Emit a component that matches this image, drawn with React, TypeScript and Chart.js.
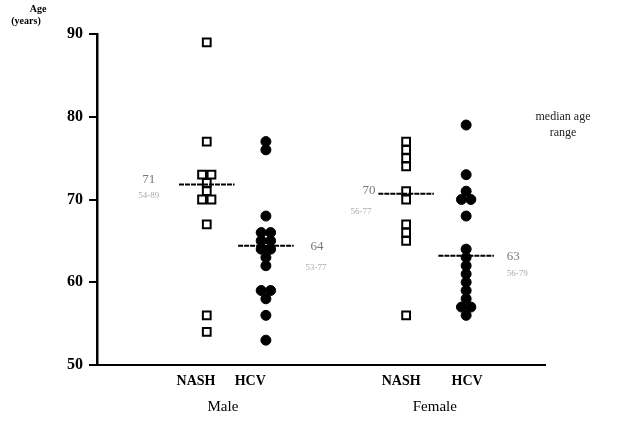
import React, { useEffect, useRef } from "react";
import { Chart, registerables } from "chart.js";
Chart.register(...registerables);

// ---- data ----
const groupNames = ["Male", "Female"];
const categories = ["NASH", "HCV", "NASH", "HCV"];
const maleNash = [89, 77, 73, 73, 72, 71, 70, 70, 67, 56, 54];
const maleHcv = [77, 76, 68, 66, 66, 65, 65, 64, 64, 63, 62, 59, 59, 58, 56, 53];
const femaleNash = [77, 76, 75, 74, 71, 70, 67, 66, 65, 56];
const femaleHcv = [79, 73, 71, 70, 70, 68, 64, 63, 62, 61, 60, 59, 58, 57, 57, 56];
const medianValues = [71.8, 64.4, 70.7, 63.2];
const medianLabels = ["71", "64", "70", "63"];
const rangeLabels = ["54-89", "53-77", "56-77", "56-79"];
const yTicks = [50, 60, 70, 80, 90];

// ---- layout ----
const FONT = "'Liberation Serif', 'Times New Roman', serif";
const columnX = [2.45, 3.77, 6.9, 8.24];
const labelX = [2.21, 3.42, 6.79, 8.26];
const groupX = [2.81, 7.54];
const jitter = 0.21;
const medianHalf = 0.62;
// pixel offsets of median / range text relative to column centre & median line
const valueOff = [[-58, -5], [51, 1], [-37, -3], [47, 1]];
const rangeOff = [[-58, 11], [50, 22], [-45, 18], [51, 18]];

function spread(values: number[], cx: number) {
  const counts: Record<number, number> = {};
  values.forEach((v) => (counts[v] = (counts[v] || 0) + 1));
  const seen: Record<number, number> = {};
  return values.map((v) => {
    const n = counts[v];
    const i = seen[v] || 0;
    seen[v] = i + 1;
    return { x: cx + (i - (n - 1) / 2) * jitter, y: v };
  });
}

const annotate = {
  id: "annotate",
  afterDraw(chart: any) {
    const { ctx, scales } = chart;
    const xs = scales.x;
    const ys = scales.y;
    ctx.save();
    ctx.fillStyle = "#000";
    ctx.textBaseline = "middle";
    // axis title
    ctx.font = `bold 10px ${FONT}`;
    ctx.textAlign = "center";
    ctx.fillText("Age", 38, 9);
    ctx.fillText("(years)", 26, 21);
    // group labels
    ctx.font = `15px ${FONT}`;
    groupNames.forEach((g, i) => {
      ctx.fillText(g, xs.getPixelForValue(groupX[i]), 407);
    });
    // median labels
    medianValues.forEach((m, i) => {
      const cx = xs.getPixelForValue(columnX[i]);
      const cy = ys.getPixelForValue(m);
      ctx.fillStyle = "#777";
      ctx.font = `13px ${FONT}`;
      ctx.fillText(medianLabels[i], cx + valueOff[i][0], cy + valueOff[i][1]);
      ctx.fillStyle = "#aaa";
      ctx.font = `9px ${FONT}`;
      ctx.fillText(rangeLabels[i], cx + rangeOff[i][0], cy + rangeOff[i][1]);
    });
    // note
    ctx.fillStyle = "#222";
    ctx.font = `12px ${FONT}`;
    ctx.fillText("median age", 563, 117);
    ctx.fillText("range", 563, 133);
    ctx.restore();
  },
};

export default function App() {
  const ref = useRef<HTMLCanvasElement>(null);
  useEffect(() => {
    if (!ref.current) return;
    const pointSets = [maleNash, maleHcv, femaleNash, femaleHcv].map((vals, i) => {
      const nash = i % 2 === 0;
      return {
        data: spread(vals, columnX[i]),
        pointStyle: nash ? "rect" : "circle",
        pointRadius: nash ? 5.5 : 5,
        pointBorderWidth: nash ? 2 : 1,
        pointBackgroundColor: nash ? "#fff" : "#000",
        pointBorderColor: "#000",
        showLine: false,
        clip: false,
      };
    });
    const lineSets = medianValues.map((m, i) => ({
      data: [
        { x: columnX[i] - medianHalf, y: m },
        { x: columnX[i] + medianHalf, y: m },
      ],
      showLine: true,
      pointRadius: 0,
      borderColor: "#000",
      borderWidth: 2,
      borderDash: [5, 1],
    }));
    const chart = new Chart(ref.current, {
      type: "scatter",
      data: { datasets: [...lineSets, ...pointSets] as any },
      options: {
        responsive: false,
        animation: false,
        layout: { padding: { top: 34, right: 78, bottom: 32, left: 0 } },
        plugins: { legend: { display: false }, tooltip: { enabled: false } },
        scales: {
          x: {
            type: "linear",
            min: 0,
            max: 10,
            grid: { display: false, drawTicks: false },
            border: { display: true, color: "#000", width: 2 },
            afterBuildTicks: (s: any) => {
              s.ticks = labelX.map((v) => ({ value: v }));
            },
            afterFit: (s: any) => {
              s.height = 30;
            },
            ticks: {
              autoSkip: false,
              maxRotation: 0,
              padding: 8,
              color: "#000",
              font: { family: FONT, size: 14, weight: "bold" },
              callback: (_v: any, i: number) => categories[i],
            },
          },
          y: {
            min: 50,
            max: 90,
            afterBuildTicks: (s: any) => {
              s.ticks = yTicks.map((v) => ({ value: v }));
            },
            afterFit: (s: any) => {
              s.width = 97;
            },
            grid: { display: true, drawOnChartArea: false, drawTicks: true, tickLength: 8, color: "#000", lineWidth: 2 },
            border: { display: true, color: "#000", width: 2.5 },
            ticks: {
              padding: 6,
              color: "#000",
              font: { family: FONT, size: 16, weight: "bold" },
            },
          },
        },
      },
      plugins: [annotate],
    } as any);
    return () => chart.destroy();
  }, []);
  return (
    <div style={{ position: "fixed", left: 0, top: 0, width: 623, height: 427, background: "#fff" }}>
      <canvas ref={ref} width={623} height={427} />
    </div>
  );
}
